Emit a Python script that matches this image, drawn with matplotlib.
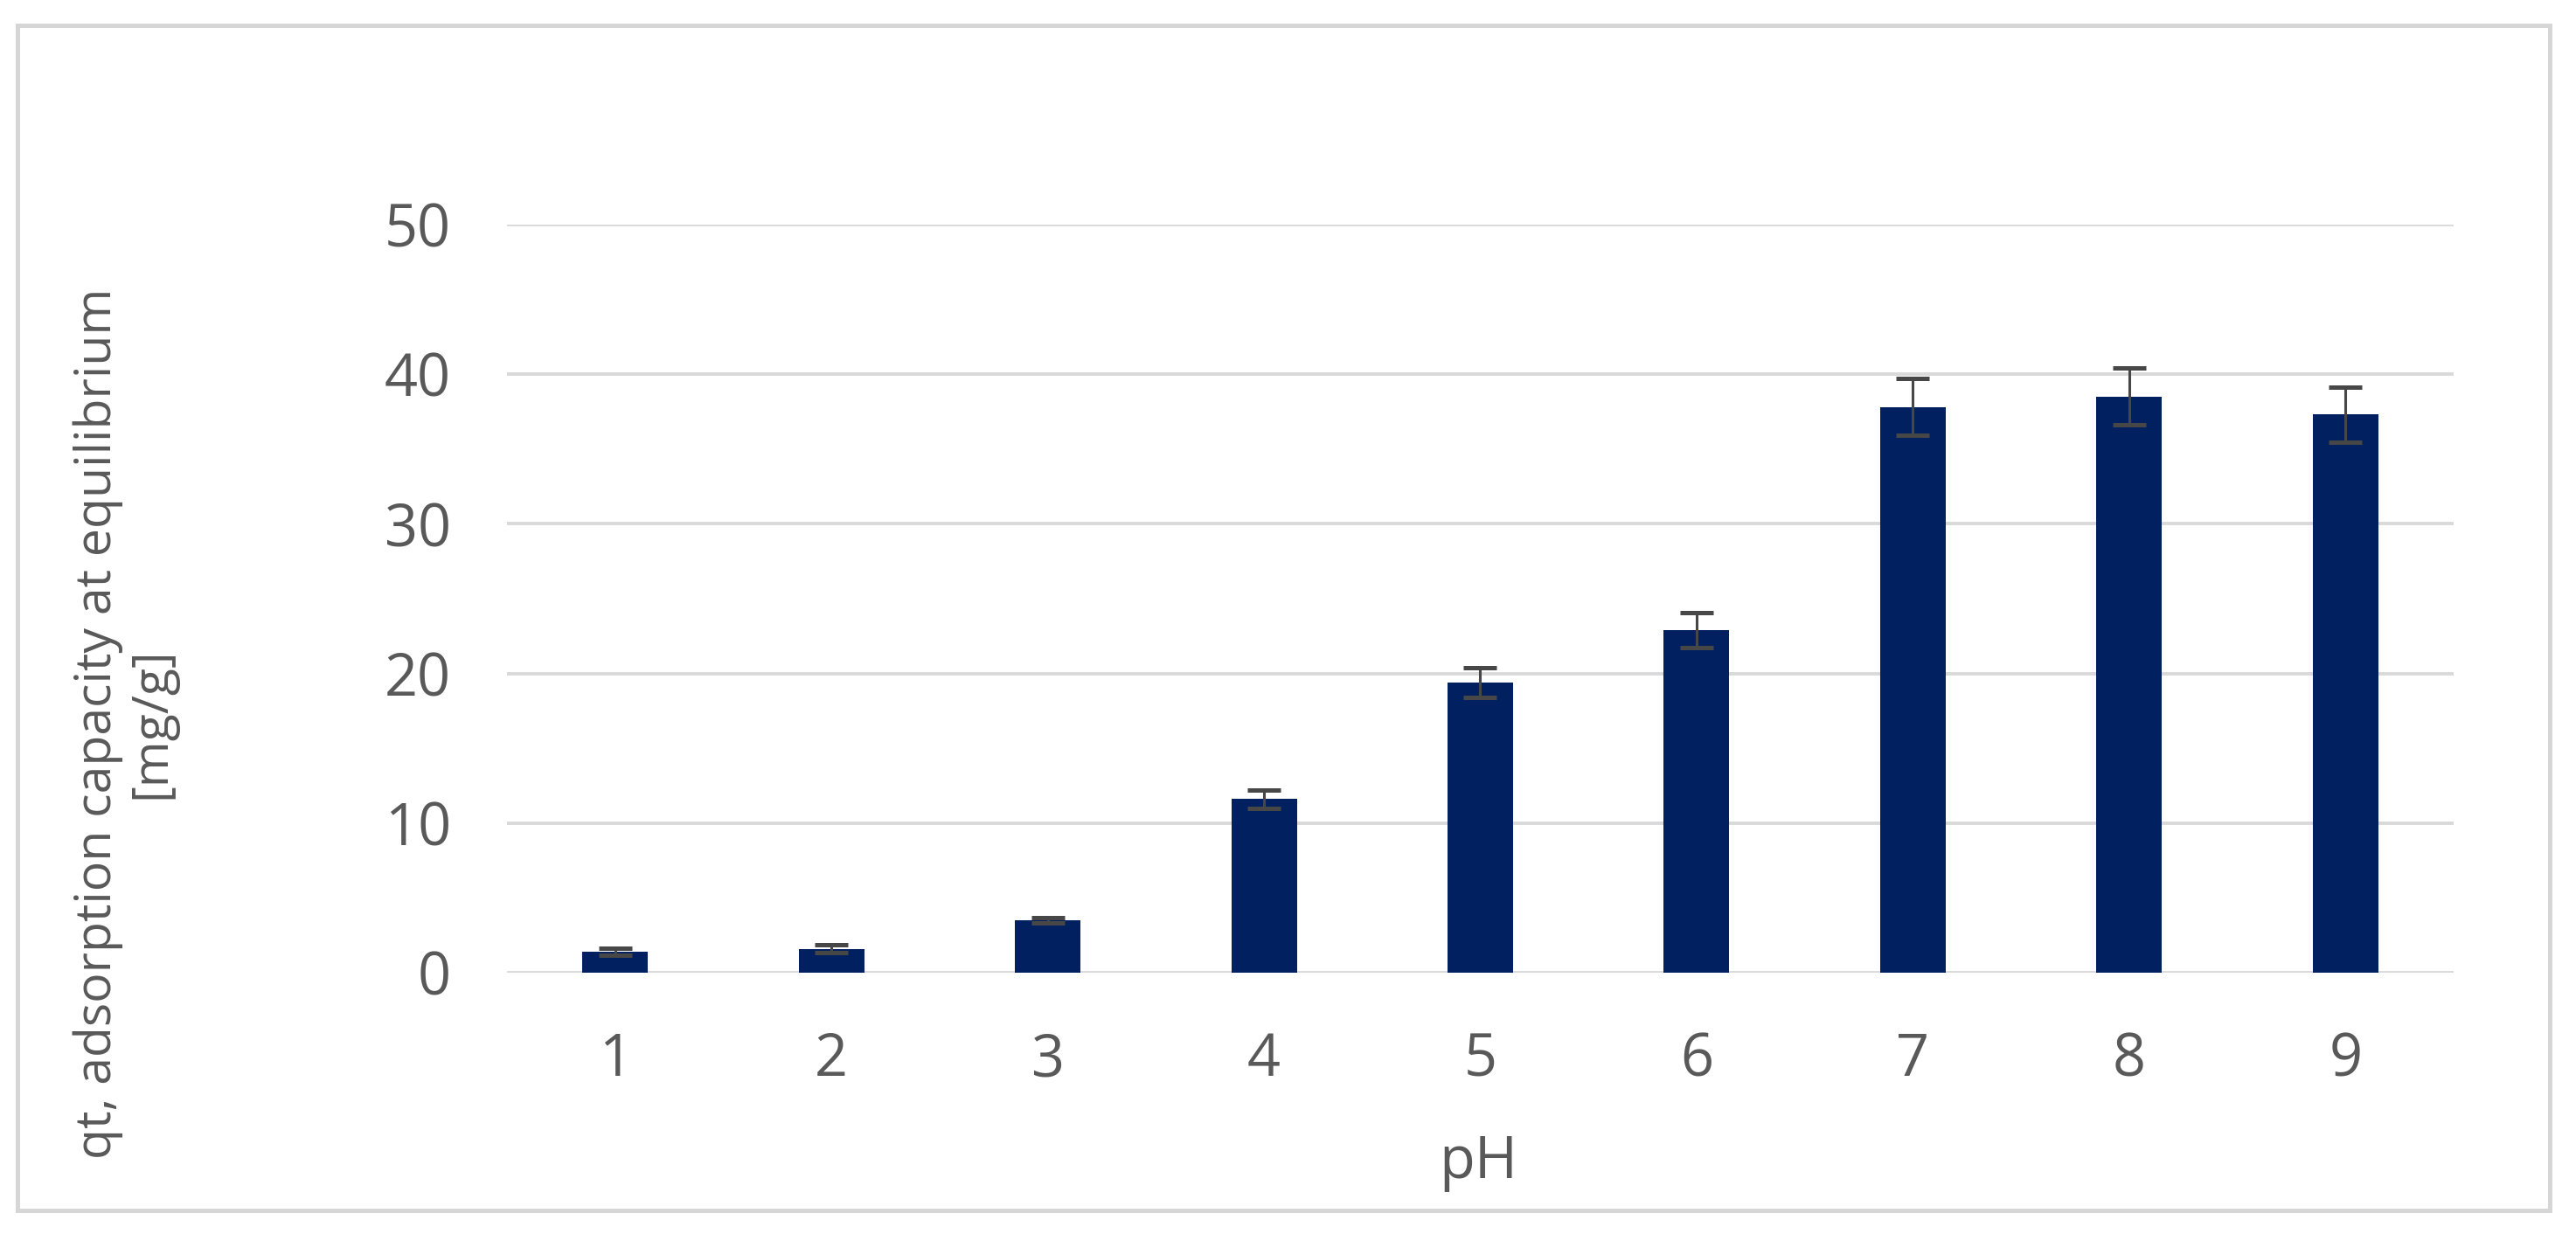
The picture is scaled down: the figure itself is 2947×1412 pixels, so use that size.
import matplotlib.pyplot as plt
from matplotlib.patches import Rectangle

# values
ph_labels = ['1', '2', '3', '4', '5', '6', '7', '8', '9']
qt_values = [1.4, 1.6, 3.5, 11.6, 19.4, 22.9, 37.8, 38.5, 37.3]
qt_errors = [0.25, 0.25, 0.2, 0.6, 1.0, 1.15, 1.9, 1.9, 1.85]
y_ticks = [0, 10, 20, 30, 40, 50]

text_color = '#595959'
grid_color = '#D9D9D9'
bar_color = '#002060'

fig = plt.figure(figsize=(14.735, 7.06), dpi=200)
ax = fig.add_axes([0.1968, 0.2118, 0.7557, 0.6062])

x = list(range(len(ph_labels)))
ax.bar(x, qt_values, width=0.303, color=bar_color, zorder=3)
ax.errorbar(x, qt_values, yerr=qt_errors, fmt='none', ecolor='#474747',
            elinewidth=1.1, capsize=6.7, capthick=1.8, zorder=4)

ax.set_xlim(-0.5, len(ph_labels) - 0.5)
ax.set_ylim(0, 50)
ax.set_yticks(y_ticks)
ax.set_xticks(x)
ax.set_xticklabels(ph_labels)

for v in y_ticks:
    ax.axhline(v, color=grid_color, linewidth=1.4, zorder=1)

for s in ax.spines.values():
    s.set_visible(False)

ax.tick_params(axis='both', length=0, labelsize=24, labelcolor=text_color)
ax.tick_params(axis='y', pad=23)
ax.tick_params(axis='x', pad=24)
for lab in ax.get_xticklabels() + ax.get_yticklabels():
    lab.set_family('Open Sans')

fig.text(0.5738, 0.0453, 'pH', ha='center', va='baseline', fontsize=24,
         color=text_color, family='Open Sans')
fig.text(0.0486, 0.414, 'qt, adsorption capacity at equilibrium\n[mg/g]',
         rotation=90, ha='center', va='center', multialignment='center',
         fontsize=20.6, color=text_color, family='Open Sans', linespacing=1.1)

# light frame around the whole chart
fig.patches.append(Rectangle((20 / 2947, 1 - 1385 / 1412), 2897 / 2947, 1356 / 1412,
                             transform=fig.transFigure, fill=False,
                             edgecolor='#D6D6D6', linewidth=1.8))

fig.savefig('out.png', dpi=200)
